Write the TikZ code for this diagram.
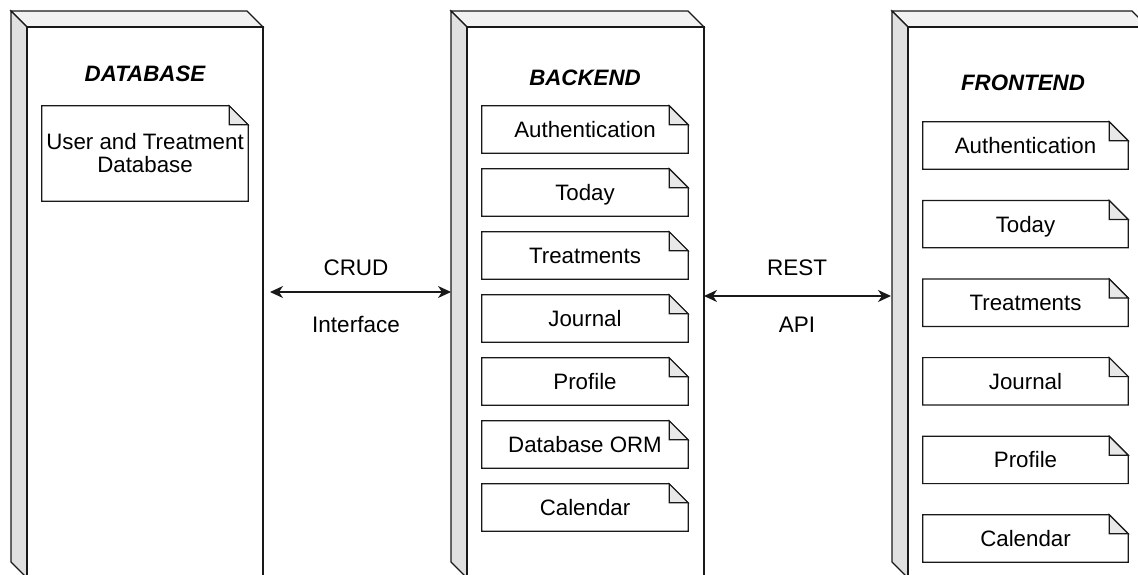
\documentclass[tikz,border=0pt]{standalone}
\usepackage{fontspec}
\setmainfont{Liberation Sans}
\usetikzlibrary{arrows.meta,calc}
\newcommand{\cubebox}[4]{%
  \draw[topface] (#1,#3) -- ({#2-16},#3) -- (#2,{#3+16}) -- ({#1+16},{#3+16}) -- cycle;
  \draw[sideface] (#1,#3) -- ({#1+16},{#3+16}) -- ({#1+16},#4) -- (#1,{#4-16}) -- cycle;
  \draw[frontface] ({#1+16},{#3+16}) rectangle (#2,#4);
}
\newcommand{\notefold}[1]{%
  \draw[edge] (#1.north west) -- ([xshift=-19pt]#1.north east) -- ([yshift=-19pt]#1.north east) -- (#1.south east) -- (#1.south west) -- cycle;
  \draw[fold] ([xshift=-19pt]#1.north east) -- ([xshift=-19pt,yshift=-19pt]#1.north east) -- ([yshift=-19pt]#1.north east) -- cycle;
}
\begin{document}
\begin{tikzpicture}[x=1pt,y=-1pt,
  edge/.style={line width=1.2pt, draw=black!90, line join=miter},
  topface/.style={edge, fill=black!5},
  sideface/.style={edge, fill=black!12},
  frontface/.style={edge, fill=white},
  fold/.style={edge, fill=black!9},
  notebox/.style={minimum width=206pt, minimum height=47pt, inner sep=0pt,
    text height=16pt, text depth=0pt, font=\fontsize{22.3}{23}\selectfont},
  dbnote/.style={minimum width=206pt, minimum height=95pt, inner sep=0pt, align=center,
    font=\fontsize{22.3}{23}\selectfont},
  titlestyle/.style={inner sep=0pt, text height=16pt, text depth=0pt,
    font=\fontsize{22.3}{24}\selectfont\bfseries\itshape},
  lbl/.style={inner sep=0pt, text height=16pt, text depth=0pt, font=\fontsize{22.5}{24}\selectfont},
  conn/.style={line width=1.2pt, draw=black!90,
    {Stealth[length=13pt,width=12pt,inset=4pt]}-{Stealth[length=13pt,width=12pt,inset=4pt]}}
]
\useasboundingbox (0,0) rectangle (1138,574);
\clip (0,0) rectangle (1138,574);

% 3D boxes
\cubebox{11}{263}{11}{578}
\cubebox{451}{704}{11}{578}
\cubebox{892}{1148}{11}{578}

% titles
\node[titlestyle] (tdb) at (145,73) {DATABASE};
\node[titlestyle] (tbe) at (585,77.5) {BACKEND};
\node[titlestyle] (tfe) at (1023,82.5) {FRONTEND};

% database note
\node[dbnote] (dbn) at (145,153.5) {User and Treatment\\Database};
\notefold{dbn}

% backend notes
\foreach \i/\t in {0/Authentication,1/Today,2/Treatments,3/Journal,4/Profile,5/Database ORM,6/Calendar}{
  \node[notebox] (be\i) at (585,{129.5+63*\i}) {\t};
  \notefold{be\i}
}

% frontend notes
\foreach \i/\t in {0/Authentication,1/Today,2/Treatments,3/Journal,4/Profile,5/Calendar}{
  \node[notebox, minimum width=205pt] (fe\i) at (1025.5,{145.5+78.6*\i}) {\t};
  \notefold{fe\i}
}

% connectors
\coordinate (crudL) at (270,292);
\coordinate (crudR) at (451,292);
\draw[conn] (crudL) -- (crudR);
\node[lbl] (crud) at (356,267) {CRUD};
\node[lbl] (iface) at (356,324) {Interface};

\coordinate (restL) at (704,296);
\coordinate (restR) at (891,296);
\draw[conn] (restL) -- (restR);
\node[lbl] (rest) at (797,267) {REST};
\node[lbl] (api) at (797,324) {API};
\end{tikzpicture}
\end{document}
